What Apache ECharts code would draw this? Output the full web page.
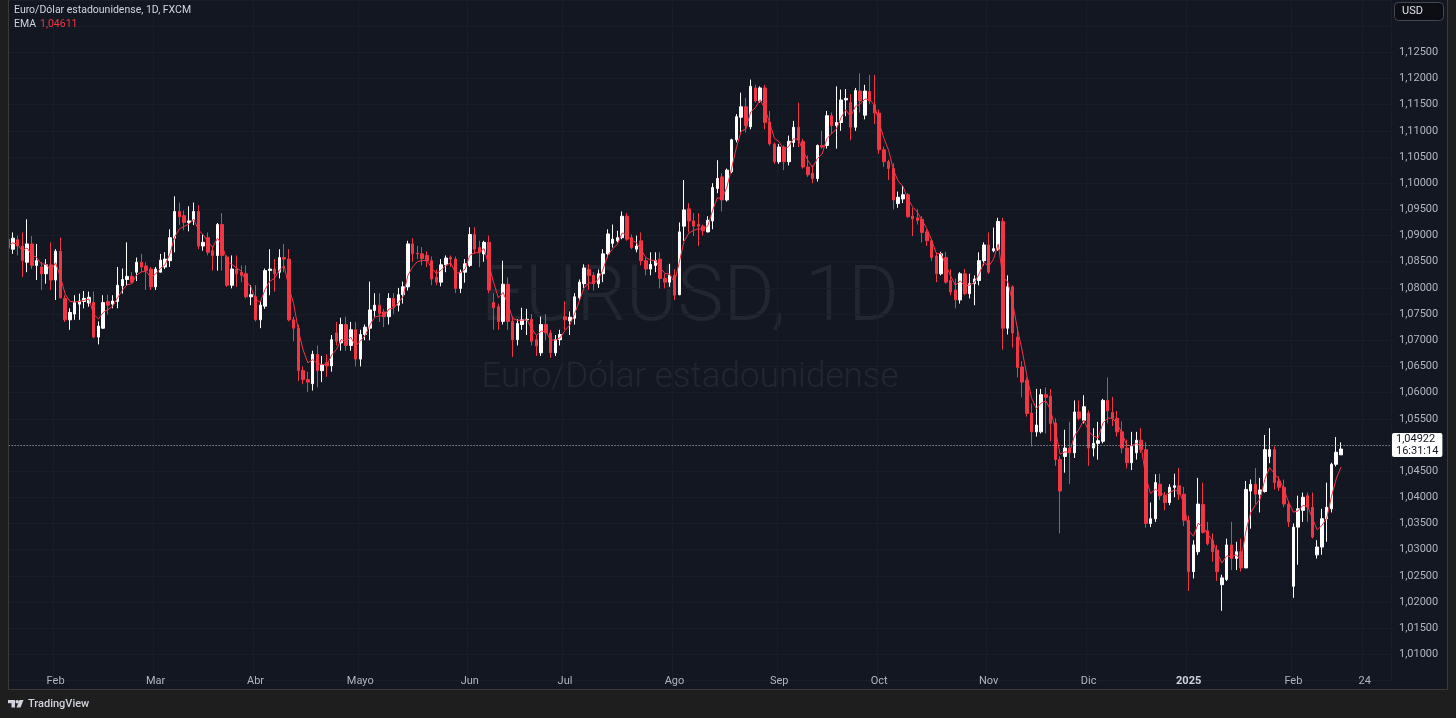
<!DOCTYPE html>
<html><head><meta charset="utf-8">
<script src="https://cdn.jsdelivr.net/npm/echarts@6/dist/echarts.min.js"></script>
<style>
html,body{margin:0;padding:0;background:#1e1e1e;width:1456px;height:718px;overflow:hidden;}
#panel{position:absolute;left:8px;top:-1px;width:1438px;height:689px;background:#131722;border:1px solid #3a3a3a;}
#chart{position:absolute;left:0;top:0;width:1456px;height:718px;}
</style></head><body>
<div id="panel"></div><div id="chart"></div>
<script>
// ---- trading days (categories) ----
const monthDays = [
 ['2024-01',[18,19,22,23,24,25,26,29,30,31]],
 ['2024-02',[1,2,5,6,7,8,9,12,13,14,15,16,19,20,21,22,23,26,27,28,29]],
 ['2024-03',[1,4,5,6,7,8,11,12,13,14,15,18,19,20,21,22,25,26,27,28,29]],
 ['2024-04',[1,2,3,4,5,8,9,10,11,12,15,16,17,18,19,22,23,24,25,26,29,30]],
 ['2024-05',[1,2,3,6,7,8,9,10,13,14,15,16,17,20,21,22,23,24,27,28,29,30,31]],
 ['2024-06',[3,4,5,6,7,10,11,12,13,14,17,18,19,20,21,24,25,26,27,28]],
 ['2024-07',[1,2,3,4,5,8,9,10,11,12,15,16,17,18,19,22,23,24,25,26,29,30,31]],
 ['2024-08',[1,2,5,6,7,8,9,12,13,14,15,16,19,20,21,22,23,26,27,28,29,30]],
 ['2024-09',[2,3,4,5,6,9,10,11,12,13,16,17,18,19,20,23,24,25,26,27,30]],
 ['2024-10',[1,2,3,4,7,8,9,10,11,14,15,16,17,18,21,22,23,24,25,28,29,30,31]],
 ['2024-11',[1,4,5,6,7,8,11,12,13,14,15,18,19,20,21,22,25,26,27,28,29]],
 ['2024-12',[2,3,4,5,6,9,10,11,12,13,16,17,18,19,20,23,24,26,27,30,31]],
 ['2025-01',[2,3,6,7,8,9,10,13,14,15,16,17,20,21,22,23,24,27,28,29,30,31]],
 ['2025-02',[3,4,5,6,7,10,11,12,13,14,17,18,19,20,21,24,25,26,27,28]],
 ['2025-03',[3]]
];
const tickLabels = {
 '2024-02-01':'Feb','2024-03-01':'Mar','2024-04-01':'Abr','2024-05-01':'Mayo','2024-06-03':'Jun',
 '2024-07-01':'Jul','2024-08-01':'Ago','2024-09-02':'Sep','2024-10-01':'Oct','2024-11-01':'Nov',
 '2024-12-02':'Dic','2025-01-02':'2025','2025-02-03':'Feb','2025-02-24':'24'
};
const yearLabel = '2025';

// ---- OHLC (EUR/USD daily, FXCM) ----
const open = [
1.0893,1.0874,1.0892,1.0880,1.0849,1.0884,1.0843,1.0840,1.0827,1.0844,
1.0815,1.0870,1.0780,1.0739,1.0750,1.0769,1.0774,1.0771,1.0772,1.0706,
1.0723,1.0774,1.0769,1.0774,1.0804,1.0816,1.0822,1.0830,1.0849,1.0842,
1.0836,1.0802,1.0830,1.0840,1.0852,1.0895,1.0946,1.0938,1.0925,1.0928,
1.0946,1.0880,1.0896,1.0871,1.0862,1.0921,1.0859,1.0805,1.0836,1.0830,
1.0827,1.0783,1.0783,1.0739,1.0765,1.0833,1.0836,1.0830,1.0858,1.0855,
1.0739,1.0723,1.0642,1.0625,1.0617,1.0673,1.0642,1.0657,1.0651,1.0714,
1.0695,1.0730,1.0690,1.0720,1.0664,1.0711,1.0723,1.0757,1.0767,1.0754,
1.0745,1.0780,1.0767,1.0787,1.0802,1.0884,1.0866,1.0865,1.0862,1.0852,
1.0820,1.0811,1.0844,1.0858,1.0855,1.0799,1.0830,1.0843,1.0902,1.0877,
1.0865,1.0887,1.0772,1.0764,1.0736,1.0807,1.0736,1.0701,1.0730,1.0739,
1.0740,1.0701,1.0676,1.0730,1.0714,1.0676,1.0701,1.0745,1.0737,1.0742,
1.0781,1.0808,1.0835,1.0824,1.0808,1.0827,1.0865,1.0885,1.0890,1.0896,
1.0937,1.0896,1.0874,1.0890,1.0852,1.0836,1.0843,1.0855,1.0818,1.0811,
1.0824,1.0787,1.0918,1.0951,1.0928,1.0921,1.0918,1.0907,1.0928,1.0990,
1.1012,1.0968,1.1022,1.1083,1.1126,1.1146,1.1108,1.1182,1.1157,1.1182,
1.1117,1.1075,1.1041,1.1069,1.1041,1.1078,1.1107,1.1080,1.1031,1.1019,
1.1009,1.1072,1.1072,1.1129,1.1110,1.1116,1.1159,1.1154,1.1107,1.1176,
1.1130,1.1175,1.1150,1.1134,1.1064,1.1041,1.1028,1.0961,1.0970,1.0978,
1.0937,1.0934,1.0931,1.0907,1.0890,1.0861,1.0827,1.0858,1.0814,1.0796,
1.0777,1.0827,1.0789,1.0808,1.0814,1.0852,1.0882,1.0871,1.0874,1.0927,
1.0723,1.0802,1.0706,1.0649,1.0623,1.0561,1.0525,1.0525,1.0596,1.0593,
1.0542,1.0472,1.0478,1.0494,1.0485,1.0563,1.0547,1.0561,1.0494,1.0503,
1.0507,1.0585,1.0562,1.0551,1.0525,1.0494,1.0466,1.0485,1.0509,1.0491,
1.0350,1.0359,1.0425,1.0403,1.0390,1.0419,1.0422,1.0406,1.0356,1.0258,
1.0296,1.0386,1.0336,1.0318,1.0299,1.0233,1.0243,1.0309,1.0283,1.0296,
1.0265,1.0412,1.0425,1.0406,1.0411,1.0478,1.0491,1.0431,1.0419,1.0387,
1.0230,1.0343,1.0375,1.0403,1.0381,1.0290,1.0305,1.0359,1.0378,1.0463,
1.0481];
const close = [
1.0876,1.0895,1.0880,1.0852,1.0884,1.0843,1.0852,1.0827,1.0844,1.0815,
1.0870,1.0781,1.0739,1.0753,1.0772,1.0775,1.0780,1.0782,1.0706,1.0727,
1.0772,1.0767,1.0775,1.0805,1.0816,1.0822,1.0811,1.0849,1.0840,1.0833,
1.0802,1.0836,1.0853,1.0855,1.0896,1.0946,1.0936,1.0925,1.0928,1.0946,
1.0880,1.0887,1.0868,1.0862,1.0921,1.0862,1.0805,1.0836,1.0827,1.0824,
1.0783,1.0787,1.0739,1.0767,1.0833,1.0836,1.0827,1.0858,1.0855,1.0739,
1.0723,1.0642,1.0625,1.0620,1.0673,1.0642,1.0653,1.0651,1.0701,1.0698,
1.0730,1.0690,1.0720,1.0664,1.0711,1.0725,1.0758,1.0767,1.0751,1.0745,
1.0780,1.0764,1.0787,1.0802,1.0884,1.0865,1.0865,1.0856,1.0852,1.0817,
1.0811,1.0844,1.0857,1.0855,1.0799,1.0830,1.0846,1.0902,1.0874,1.0868,
1.0887,1.0796,1.0762,1.0736,1.0807,1.0736,1.0701,1.0732,1.0739,1.0740,
1.0698,1.0689,1.0730,1.0714,1.0676,1.0701,1.0711,1.0739,1.0744,1.0783,
1.0811,1.0838,1.0824,1.0808,1.0827,1.0865,1.0903,1.0893,1.0896,1.0937,
1.0893,1.0877,1.0880,1.0852,1.0836,1.0845,1.0852,1.0818,1.0811,1.0824,
1.0786,1.0907,1.0949,1.0928,1.0918,1.0918,1.0909,1.0929,1.0992,1.1009,
1.0968,1.1025,1.1083,1.1127,1.1146,1.1110,1.1185,1.1157,1.1182,1.1116,
1.1075,1.1041,1.1069,1.1041,1.1080,1.1107,1.1082,1.1031,1.1016,1.1009,
1.1072,1.1069,1.1129,1.1110,1.1116,1.1159,1.1162,1.1107,1.1177,1.1157,
1.1176,1.1157,1.1134,1.1064,1.1041,1.1028,1.0968,1.0973,1.0978,1.0936,
1.0932,1.0929,1.0906,1.0890,1.0858,1.0827,1.0865,1.0811,1.0792,1.0777,
1.0827,1.0789,1.0808,1.0817,1.0852,1.0882,1.0830,1.0875,1.0927,1.0723,
1.0802,1.0714,1.0648,1.0620,1.0560,1.0525,1.0538,1.0596,1.0591,1.0541,
1.0472,1.0412,1.0494,1.0485,1.0563,1.0551,1.0573,1.0494,1.0503,1.0508,
1.0585,1.0565,1.0551,1.0525,1.0494,1.0466,1.0497,1.0509,1.0491,1.0350,
1.0359,1.0428,1.0403,1.0390,1.0419,1.0422,1.0406,1.0356,1.0258,1.0309,
1.0387,1.0333,1.0311,1.0296,1.0258,1.0246,1.0309,1.0283,1.0296,1.0265,
1.0415,1.0425,1.0406,1.0414,1.0491,1.0491,1.0428,1.0419,1.0387,1.0353,
1.0343,1.0378,1.0400,1.0381,1.0324,1.0305,1.0359,1.0381,1.0463,1.0486,
1.04922];
const low = [
1.0850,1.0865,1.0862,1.0821,1.0830,1.0836,1.0815,1.0796,1.0808,1.0796,
1.0777,1.0780,1.0735,1.0720,1.0739,1.0739,1.0761,1.0764,1.0704,1.0692,
1.0722,1.0749,1.0761,1.0761,1.0789,1.0805,1.0808,1.0813,1.0830,1.0796,
1.0796,1.0796,1.0830,1.0836,1.0840,1.0868,1.0920,1.0910,1.0908,1.0920,
1.0874,1.0871,1.0862,1.0833,1.0833,1.0833,1.0802,1.0799,1.0802,1.0811,
1.0780,1.0767,1.0736,1.0723,1.0760,1.0786,1.0793,1.0818,1.0830,1.0736,
1.0698,1.0622,1.0616,1.0601,1.0604,1.0610,1.0620,1.0630,1.0640,1.0690,
1.0680,1.0680,1.0680,1.0650,1.0650,1.0700,1.0700,1.0745,1.0735,1.0725,
1.0730,1.0750,1.0755,1.0770,1.0795,1.0850,1.0855,1.0843,1.0840,1.0805,
1.0805,1.0803,1.0830,1.0840,1.0790,1.0790,1.0810,1.0840,1.0865,1.0840,
1.0850,1.0790,1.0720,1.0720,1.0730,1.0720,1.0668,1.0690,1.0720,1.0710,
1.0690,1.0670,1.0670,1.0700,1.0666,1.0670,1.0690,1.0720,1.0710,1.0730,
1.0775,1.0800,1.0796,1.0795,1.0800,1.0811,1.0858,1.0877,1.0887,1.0893,
1.0890,1.0874,1.0868,1.0843,1.0824,1.0824,1.0830,1.0799,1.0799,1.0802,
1.0777,1.0786,1.0890,1.0906,1.0899,1.0880,1.0900,1.0906,1.0912,1.0981,
1.0946,1.0965,1.1019,1.1078,1.1097,1.1097,1.1103,1.1154,1.1154,1.1103,
1.1072,1.1037,1.1037,1.1025,1.1034,1.1069,1.1069,1.1028,1.1012,1.1000,
1.1003,1.1066,1.1066,1.1094,1.1066,1.1100,1.1128,1.1082,1.1100,1.1135,
1.1122,1.1151,1.1113,1.1056,1.1031,1.1006,1.0950,1.0953,1.0962,1.0934,
1.0899,1.0921,1.0887,1.0880,1.0852,1.0811,1.0824,1.0808,1.0786,1.0761,
1.0770,1.0786,1.0780,1.0767,1.0805,1.0843,1.0827,1.0868,1.0871,1.0682,
1.0711,1.0686,1.0629,1.0591,1.0554,1.0497,1.0516,1.0522,1.0522,1.0507,
1.0460,1.0331,1.0447,1.0425,1.0475,1.0547,1.0541,1.0460,1.0478,1.0472,
1.0503,1.0541,1.0536,1.0516,1.0484,1.0455,1.0452,1.0472,1.0485,1.0342,
1.0343,1.0353,1.0395,1.0375,1.0385,1.0400,1.0395,1.0345,1.0221,1.0245,
1.0290,1.0331,1.0308,1.0277,1.0240,1.0183,1.0240,1.0261,1.0261,1.0258,
1.0265,1.0340,1.0387,1.0371,1.0409,1.0465,1.0415,1.0412,1.0381,1.0343,
1.0208,1.0271,1.0353,1.0353,1.0321,1.0283,1.0290,1.0315,1.0371,1.0459,
1.0481];
const high = [
1.0906,1.0906,1.0900,1.0906,1.0931,1.0899,1.0884,1.0849,1.0855,1.0887,
1.0874,1.0896,1.0786,1.0761,1.0786,1.0789,1.0794,1.0793,1.0793,1.0736,
1.0786,1.0787,1.0786,1.0840,1.0837,1.0887,1.0830,1.0858,1.0865,1.0849,
1.0840,1.0840,1.0865,1.0868,1.0912,1.0975,1.0963,1.0948,1.0956,1.0963,
1.0958,1.0902,1.0906,1.0880,1.0924,1.0943,1.0862,1.0862,1.0862,1.0843,
1.0843,1.0805,1.0805,1.0774,1.0837,1.0874,1.0855,1.0874,1.0884,1.0874,
1.0745,1.0730,1.0650,1.0640,1.0680,1.0690,1.0670,1.0673,1.0710,1.0735,
1.0743,1.0745,1.0735,1.0735,1.0720,1.0730,1.0812,1.0790,1.0790,1.0760,
1.0790,1.0790,1.0800,1.0812,1.0890,1.0895,1.0880,1.0878,1.0870,1.0860,
1.0835,1.0855,1.0862,1.0862,1.0860,1.0835,1.0855,1.0916,1.0916,1.0890,
1.0890,1.0900,1.0790,1.0770,1.0852,1.0820,1.0745,1.0740,1.0762,1.0760,
1.0750,1.0710,1.0745,1.0750,1.0720,1.0710,1.0720,1.0774,1.0755,1.0790,
1.0816,1.0845,1.0845,1.0830,1.0835,1.0874,1.0912,1.0921,1.0909,1.0946,
1.0943,1.0902,1.0900,1.0906,1.0858,1.0868,1.0868,1.0868,1.0827,1.0846,
1.0836,1.0925,1.1006,1.0962,1.0943,1.0943,1.0921,1.0937,1.1000,1.1044,
1.1019,1.1028,1.1085,1.1132,1.1173,1.1163,1.1198,1.1188,1.1185,1.1188,
1.1138,1.1078,1.1075,1.1072,1.1091,1.1119,1.1154,1.1085,1.1053,1.1034,
1.1074,1.1100,1.1138,1.1135,1.1185,1.1179,1.1180,1.1170,1.1182,1.1210,
1.1188,1.1207,1.1207,1.1141,1.1070,1.1045,1.1038,1.0984,1.0995,1.0981,
1.0953,1.0950,1.0937,1.0912,1.0893,1.0868,1.0869,1.0869,1.0836,1.0818,
1.0830,1.0836,1.0827,1.0824,1.0868,1.0887,1.0906,1.0915,1.0934,1.0934,
1.0824,1.0805,1.0726,1.0660,1.0629,1.0579,1.0607,1.0607,1.0610,1.0607,
1.0551,1.0478,1.0529,1.0544,1.0585,1.0585,1.0595,1.0566,1.0532,1.0544,
1.0588,1.0629,1.0592,1.0565,1.0545,1.0510,1.0525,1.0525,1.0532,1.0505,
1.0390,1.0444,1.0445,1.0410,1.0425,1.0445,1.0456,1.0420,1.0365,1.0318,
1.0437,1.0428,1.0353,1.0331,1.0309,1.0252,1.0321,1.0353,1.0315,1.0321,
1.0431,1.0434,1.0456,1.0437,1.0519,1.0532,1.0497,1.0440,1.0434,1.0393,
1.0350,1.0403,1.0409,1.0409,1.0409,1.0318,1.0378,1.0428,1.0466,1.0515,
1.0505];
// EMA line as read/derived for the displayed indicator
const ema = [
1.08800,1.08860,1.08836,1.08710,1.08762,1.08629,1.08585,1.08459,1.08451,1.08331,
1.08479,1.08211,1.07883,1.07742,1.07733,1.07740,1.07764,1.07786,1.07496,1.07406,
1.07532,1.07587,1.07652,1.07811,1.07951,1.08059,1.08079,1.08243,1.08306,1.08316,
1.08198,1.08263,1.08370,1.08442,1.08649,1.08973,1.09128,1.09177,1.09218,1.09315,
1.09109,1.09013,1.08880,1.08776,1.08950,1.08818,1.08511,1.08451,1.08379,1.08323,
1.08126,1.08024,1.07770,1.07730,1.07970,1.08126,1.08184,1.08342,1.08425,1.08011,
1.07699,1.07187,1.06812,1.06567,1.06632,1.06547,1.06540,1.06528,1.06721,1.06825,
1.07015,1.06969,1.07061,1.06893,1.06980,1.07088,1.07285,1.07439,1.07467,1.07460,
1.07596,1.07614,1.07716,1.07838,1.08239,1.08403,1.08502,1.08525,1.08523,1.08382,
1.08273,1.08340,1.08432,1.08479,1.08283,1.08290,1.08358,1.08623,1.08670,1.08674,
1.08752,1.08435,1.08109,1.07809,1.07913,1.07692,1.07419,1.07379,1.07383,1.07390,
1.07226,1.07092,1.07175,1.07161,1.07001,1.07005,1.07047,1.07184,1.07286,1.07504,
1.07746,1.08000,1.08096,1.08090,1.08162,1.08357,1.08626,1.08748,1.08833,1.09048,
1.09001,1.08909,1.08865,1.08727,1.08580,1.08528,1.08525,1.08387,1.08276,1.08262,
1.08101,1.08489,1.08889,1.09045,1.09099,1.09131,1.09115,1.09185,1.09479,1.09723,
1.09706,1.09924,1.10286,1.10680,1.10992,1.11035,1.11361,1.11445,1.11595,1.11421,
1.11153,1.10856,1.10790,1.10638,1.10703,1.10850,1.10838,1.10627,1.10440,1.10300,
1.10468,1.10557,1.10850,1.10950,1.11034,1.11256,1.11402,1.11269,1.11469,1.11509,
1.11610,1.11594,1.11492,1.11151,1.10855,1.10625,1.10247,1.10040,1.09936,1.09706,
1.09552,1.09447,1.09292,1.09135,1.08913,1.08656,1.08654,1.08436,1.08230,1.08046,
1.08136,1.08038,1.08055,1.08101,1.08269,1.08489,1.08413,1.08548,1.08837,1.08194,
1.08124,1.07730,1.07230,1.06818,1.06331,1.05899,1.05691,1.05799,1.05843,1.05670,
1.05290,1.04822,1.04869,1.04861,1.05169,1.05305,1.05475,1.05261,1.05169,1.05133,
1.05420,1.05512,1.05511,1.05407,1.05220,1.04996,1.04986,1.05028,1.04981,1.04389,
1.04069,1.04153,1.04104,1.04022,1.04089,1.04141,1.04109,1.03889,1.03365,1.03255,
1.03501,1.03433,1.03304,1.03166,1.02932,1.02743,1.02882,1.02861,1.02901,1.02800,
1.03340,1.03704,1.03846,1.03964,1.04342,1.04569,1.04453,1.04348,1.04157,1.03906,
1.03716,1.03742,1.03845,1.03831,1.03595,1.03377,1.03462,1.03601,1.04013,1.04352,
1.04579];
const lastPrice = 1.04922;
const emaShown = '1,04611';
const countdown = '16:31:14';

// ---- build ----
const categories = [];
monthDays.forEach(([m, ds]) => ds.forEach(d => categories.push(m + '-' + String(d).padStart(2, '0'))));
const candles = open.map((o, i) => [o, close[i], low[i], high[i]]);
const fmt = v => v.toFixed(5).replace('.', ',');

const FONT = 'Roboto, "Noto Sans", sans-serif';
const RED = '#f23645';
const TXT = '#b2b5be';
const GRIDC = '#191d28';
const isTick = (idx, val) => tickLabels[val] !== undefined;

const chart = echarts.init(document.getElementById('chart'), null, {renderer: 'canvas'});
chart.setOption({
  animation: false,
  backgroundColor: 'transparent',
  textStyle: {fontFamily: FONT},
  grid: {left: 5.62, right: 65.02, top: -9.04, bottom: 37.52, containLabel: false},
  xAxis: {
    type: 'category', data: categories, boundaryGap: true, offset: -9,
    axisLine: {show: false}, axisTick: {show: false},
    axisLabel: {
      interval: isTick, margin: 4, color: TXT, fontSize: 11, fontFamily: FONT,
      formatter: (val) => val.startsWith('2025-01') ? '{b|' + yearLabel + '}' : (tickLabels[val] || ''),
      rich: {b: {fontWeight: 'bold', color: '#d1d4dc', fontSize: 11, fontFamily: FONT}}
    },
    splitLine: {show: true, interval: isTick, lineStyle: {color: GRIDC, width: 1}}
  },
  yAxis: {
    type: 'value', position: 'right', min: 1.005, max: 1.135, interval: 0.005, scale: true,
    axisLine: {show: false}, axisTick: {show: false},
    axisLabel: {margin: 8, color: TXT, fontSize: 11, fontFamily: FONT,
      formatter: v => (v > 1.1276 || v < 1.0074) ? '' : fmt(v)},
    splitLine: {show: true, lineStyle: {color: GRIDC, width: 1}}
  },
  series: [
    {
      type: 'candlestick', data: candles, barWidth: 3, z: 3,
      itemStyle: {color: '#ffffff', color0: RED, borderColor: '#ffffff', borderColor0: RED, borderWidth: 1},
      markLine: {
        silent: true, symbol: ['none', 'none'], animation: false,
        data: [{yAxis: lastPrice}],
        lineStyle: {color: '#b2b5be', type: [1, 2], width: 1},
        label: {show: true, position: 'end', distance: 1,
          formatter: fmt(lastPrice) + '\n' + countdown,
          backgroundColor: '#ffffff', color: '#131722', fontSize: 11, lineHeight: 12,
          padding: [0, 4, 0, 4], borderRadius: 2, fontFamily: FONT}
      }
    },
    {
      type: 'line', data: ema, showSymbol: false, symbol: 'none', silent: true, z: 4,
      lineStyle: {color: RED, width: 1}
    }
  ],
  graphic: {elements: [
    {type: 'text', x: 690, y: 300, silent: true, z: 0,
      style: {text: 'EURUSD, 1D', fill: 'rgba(255,255,255,0.065)', font: '300 78px ' + FONT, textAlign: 'center', textVerticalAlign: 'middle', verticalAlign: 'middle'}},
    {type: 'text', x: 690, y: 378, silent: true, z: 0,
      style: {text: 'Euro/Dólar estadounidense', fill: 'rgba(255,255,255,0.065)', font: '300 35px ' + FONT, textAlign: 'center', textVerticalAlign: 'middle', verticalAlign: 'middle'}},
    {type: 'text', x: 14, y: 10.5, z: 50,
      style: {text: 'Euro/Dólar estadounidense, 1D, FXCM', fill: '#d1d4dc', font: '10.5px ' + FONT, textVerticalAlign: 'middle', verticalAlign: 'middle'}},
    {type: 'text', x: 14, y: 24, z: 50,
      style: {text: 'EMA', fill: '#d1d4dc', font: '10.5px ' + FONT, textVerticalAlign: 'middle', verticalAlign: 'middle'}},
    {type: 'text', x: 40, y: 24, z: 50,
      style: {text: emaShown, fill: RED, font: '10.5px ' + FONT, textVerticalAlign: 'middle', verticalAlign: 'middle'}},
    {type: 'rect', z: 50, shape: {x: 1394.5, y: 2.5, width: 49, height: 18, r: 4},
      style: {fill: '#0c0e14', stroke: '#434651', lineWidth: 1}},
    {type: 'text', x: 1402, y: 11.5, z: 51,
      style: {text: 'USD', fill: '#e0e3eb', font: '11px ' + FONT, textVerticalAlign: 'middle', verticalAlign: 'middle'}},
    {type: 'rect', z: 100, shape: {x: 0, y: 0, width: 8, height: 718}, style: {fill: '#1e1e1e'}},
    {type: 'line', z: 100, shape: {x1: 8.5, y1: 0, x2: 8.5, y2: 689}, style: {stroke: '#3a3a3a', lineWidth: 1}},
    {type: 'rect', z: 100, shape: {x: 8, y: 700, width: 7, height: 3.2}, style: {fill: '#d1d4dc'}},
    {type: 'rect', z: 100, shape: {x: 11.5, y: 700, width: 3.5, height: 7.5}, style: {fill: '#d1d4dc'}},
    {type: 'circle', z: 100, shape: {cx: 17.2, cy: 701.8, r: 1.8}, style: {fill: '#d1d4dc'}},
    {type: 'polygon', z: 100, shape: {points: [[19.5, 700], [23.5, 700], [20.5, 707.5], [16.5, 707.5]]}, style: {fill: '#d1d4dc'}},
    {type: 'text', x: 28, y: 704, z: 100,
      style: {text: 'TradingView', fill: '#d1d4dc', font: '500 11px ' + FONT, textVerticalAlign: 'middle', verticalAlign: 'middle'}}
  ]}
});
</script></body></html>
